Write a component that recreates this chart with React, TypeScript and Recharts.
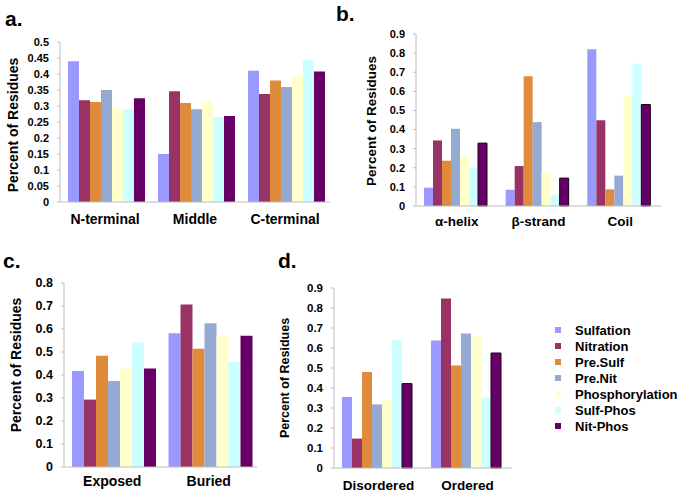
import React from 'react';
import { BarChart, Bar, XAxis, YAxis, Legend } from 'recharts';

const seriesNames = ['Sulfation', 'Nitration', 'Pre.Sulf', 'Pre.Nit', 'Phosphorylation', 'Sulf-Phos', 'Nit-Phos'];
const seriesColors = ['#9999FF', '#993366', '#E08A3C', '#95AAD3', '#FFFFCC', '#CCFFFF', '#660066'];

// Panel a: position in sequence
const aCategories = ['N-terminal', 'Middle', 'C-terminal'];
const aSulfation = [0.44, 0.15, 0.41];
const aNitration = [0.318, 0.346, 0.3375];
const aPreSulf = [0.3125, 0.309, 0.38];
const aPreNit = [0.35, 0.29, 0.359];
const aPhosphorylation = [0.292, 0.316, 0.393];
const aSulfPhos = [0.29, 0.266, 0.444];
const aNitPhos = [0.324, 0.269, 0.408];
const aTicks = [0, 0.05, 0.1, 0.15, 0.2, 0.25, 0.3, 0.35, 0.4, 0.45, 0.5];

// Panel b: secondary structure
const bCategories = ['α-helix', 'β-strand', 'Coil'];
const bSulfation = [0.096, 0.085, 0.82];
const bNitration = [0.343, 0.209, 0.449];
const bPreSulf = [0.237, 0.679, 0.087];
const bPreNit = [0.404, 0.439, 0.159];
const bPhosphorylation = [0.258, 0.176, 0.575];
const bSulfPhos = [0.199, 0.059, 0.744];
const bNitPhos = [0.329, 0.146, 0.531];
const bTicks = [0, 0.1, 0.2, 0.3, 0.4, 0.5, 0.6, 0.7, 0.8, 0.9];

// Panel c: solvent accessibility
const cCategories = ['Exposed', 'Buried'];
const cSulfation = [0.417, 0.581];
const cNitration = [0.293, 0.706];
const cPreSulf = [0.484, 0.514];
const cPreNit = [0.374, 0.625];
const cPhosphorylation = [0.428, 0.571];
const cSulfPhos = [0.541, 0.458];
const cNitPhos = [0.428, 0.571];
const cTicks = [0, 0.1, 0.2, 0.3, 0.4, 0.5, 0.6, 0.7, 0.8];

// Panel d: disorder
const dCategories = ['Disordered', 'Ordered'];
const dSulfation = [0.355, 0.638];
const dNitration = [0.147, 0.847];
const dPreSulf = [0.48, 0.513];
const dPreNit = [0.318, 0.673];
const dPhosphorylation = [0.338, 0.657];
const dSulfPhos = [0.64, 0.352];
const dNitPhos = [0.422, 0.575];
const dTicks = [0, 0.1, 0.2, 0.3, 0.4, 0.5, 0.6, 0.7, 0.8, 0.9];

const FONT = '"Liberation Sans", Arial, Helvetica, sans-serif';
const AXIS = '#BDBDBD';

type PanelProps = {
  categories: string[];
  series: number[][];
  ticks: number[];
  left: number;
  top: number;
  width: number;
  height: number;
  margin: { top: number; right: number; bottom: number; left: number };
  yWidth: number;
  xHeight: number;
  catMargin: number;
  catFont: number;
  tickFont: number;
  labelX: number;
  labelDy: number;
  labelFont: number;
  outlineLast?: boolean;
  legend?: boolean;
};

function LegendContent() {
  return (
    <div style={{ fontFamily: FONT, fontWeight: 'bold', fontSize: 13, color: '#000' }}>
      {seriesNames.map((n, i) => (
        <div key={n} style={{ height: 16, display: 'flex', alignItems: 'center', whiteSpace: 'nowrap' }}>
          <span style={{ display: 'inline-block', width: 6, height: 6, background: seriesColors[i], marginRight: 14 }} />
          <span>{n}</span>
        </div>
      ))}
    </div>
  );
}

function Panel(p: PanelProps) {
  const data = p.categories.map((c, i) => {
    const row: any = { cat: c };
    p.series.forEach((s, j) => {
      row['s' + j] = s[i];
    });
    return row;
  });
  const n = p.categories.length;
  const divTicks = p.categories.map((_, i) => i + 1);
  const max = p.ticks[p.ticks.length - 1];
  const yLabel = (props: any) => {
    const vb = props.viewBox || { x: 0, y: 0, width: 0, height: 0 };
    const cx = vb.x + p.labelX;
    const cy = vb.y + vb.height / 2 + p.labelDy;
    return (
      <text
        x={cx}
        y={cy}
        transform={`rotate(-90 ${cx} ${cy})`}
        textAnchor="middle"
        dominantBaseline="central"
        fontFamily={FONT}
        fontWeight="bold"
        fontSize={p.labelFont}
        fill="#000"
      >
        Percent of Residues
      </text>
    );
  };
  return (
    <div style={{ position: 'absolute', left: p.left, top: p.top }}>
      <BarChart width={p.width} height={p.height} data={data} margin={p.margin} barCategoryGap={8} barGap={0}>
        <XAxis
          xAxisId="div"
          type="number"
          domain={[0, n]}
          ticks={divTicks}
          tick={false}
          axisLine={false}
          tickLine={{ stroke: AXIS }}
          tickSize={4}
          height={0}
          allowDataOverflow
        />
        <XAxis
          dataKey="cat"
          axisLine={{ stroke: AXIS }}
          tickLine={false}
          tickSize={0}
          tickMargin={p.catMargin}
          height={p.xHeight}
          interval={0}
          tick={{ fill: '#000', fontSize: p.catFont, fontWeight: 'bold', fontFamily: FONT }}
        />
        <YAxis
          domain={[0, max]}
          ticks={p.ticks}
          width={p.yWidth}
          interval={0}
          axisLine={{ stroke: AXIS }}
          tickLine={{ stroke: AXIS }}
          tickSize={3}
          tickMargin={8}
          tickFormatter={(v: number) => String(v)}
          tick={{ fill: '#000', fontSize: p.tickFont, fontWeight: 'bold', fontFamily: FONT }}
          label={yLabel}
        />
        {seriesNames.map((name, j) => (
          <Bar
            key={name}
            dataKey={'s' + j}
            name={name}
            fill={seriesColors[j]}
            stroke={p.outlineLast && j === seriesNames.length - 1 ? '#1a001a' : undefined}
            strokeWidth={p.outlineLast && j === seriesNames.length - 1 ? 1 : 0}
            isAnimationActive={false}
          />
        ))}
        {p.legend ? (
          <Legend
            layout="vertical"
            align="center"
            verticalAlign="middle"
            content={() => <LegendContent />}
            wrapperStyle={{ left: 285, top: 82, width: 140, height: 'auto' }}
          />
        ) : null}
      </BarChart>
    </div>
  );
}

const letterStyle: React.CSSProperties = {
  position: 'absolute',
  fontFamily: FONT,
  fontWeight: 'bold',
  fontSize: 21,
  lineHeight: '21px',
  color: '#000',
};

export default function App() {
  return (
    <div style={{ position: 'absolute', left: 0, top: 0, width: 685, height: 494, background: '#fff', overflow: 'hidden' }}>
      <div style={{ ...letterStyle, left: 5, top: 8 }}>a.</div>
      <div style={{ ...letterStyle, left: 336, top: 3 }}>b.</div>
      <div style={{ ...letterStyle, left: 3, top: 250 }}>c.</div>
      <div style={{ ...letterStyle, left: 278, top: 250 }}>d.</div>

      <Panel
        categories={aCategories}
        series={[aSulfation, aNitration, aPreSulf, aPreNit, aPhosphorylation, aSulfPhos, aNitPhos]}
        ticks={aTicks}
        left={0}
        top={0}
        width={345}
        height={235}
        margin={{ top: 42, right: 15, bottom: 3, left: 0 }}
        yWidth={60}
        xHeight={30}
        catMargin={12}
        catFont={14}
        tickFont={11}
        labelX={13}
        labelDy={3}
        labelFont={14}
      />
      <Panel
        categories={bCategories}
        series={[bSulfation, bNitration, bPreSulf, bPreNit, bPhosphorylation, bSulfPhos, bNitPhos]}
        ticks={bTicks}
        left={340}
        top={0}
        width={345}
        height={235}
        margin={{ top: 34, right: 24, bottom: 1, left: 0 }}
        yWidth={76}
        xHeight={28}
        catMargin={10}
        catFont={13.5}
        tickFont={11}
        labelX={31}
        labelDy={1}
        labelFont={13.5}
        outlineLast
      />
      <Panel
        categories={cCategories}
        series={[cSulfation, cNitration, cPreSulf, cPreNit, cPhosphorylation, cSulfPhos, cNitPhos]}
        ticks={cTicks}
        left={0}
        top={240}
        width={345}
        height={254}
        margin={{ top: 43, right: 88, bottom: 1, left: 0 }}
        yWidth={64}
        xHeight={26}
        catMargin={9}
        catFont={14}
        tickFont={12.5}
        labelX={16}
        labelDy={-10}
        labelFont={14}
      />
      <Panel
        categories={dCategories}
        series={[dSulfation, dNitration, dPreSulf, dPreNit, dPhosphorylation, dSulfPhos, dNitPhos]}
        ticks={dTicks}
        left={270}
        top={240}
        width={415}
        height={254}
        margin={{ top: 48, right: 173, bottom: 0, left: 0 }}
        yWidth={64}
        xHeight={26}
        catMargin={12}
        catFont={13.5}
        tickFont={11.5}
        labelX={15}
        labelDy={0}
        labelFont={12.5}
        outlineLast
        legend
      />
    </div>
  );
}
